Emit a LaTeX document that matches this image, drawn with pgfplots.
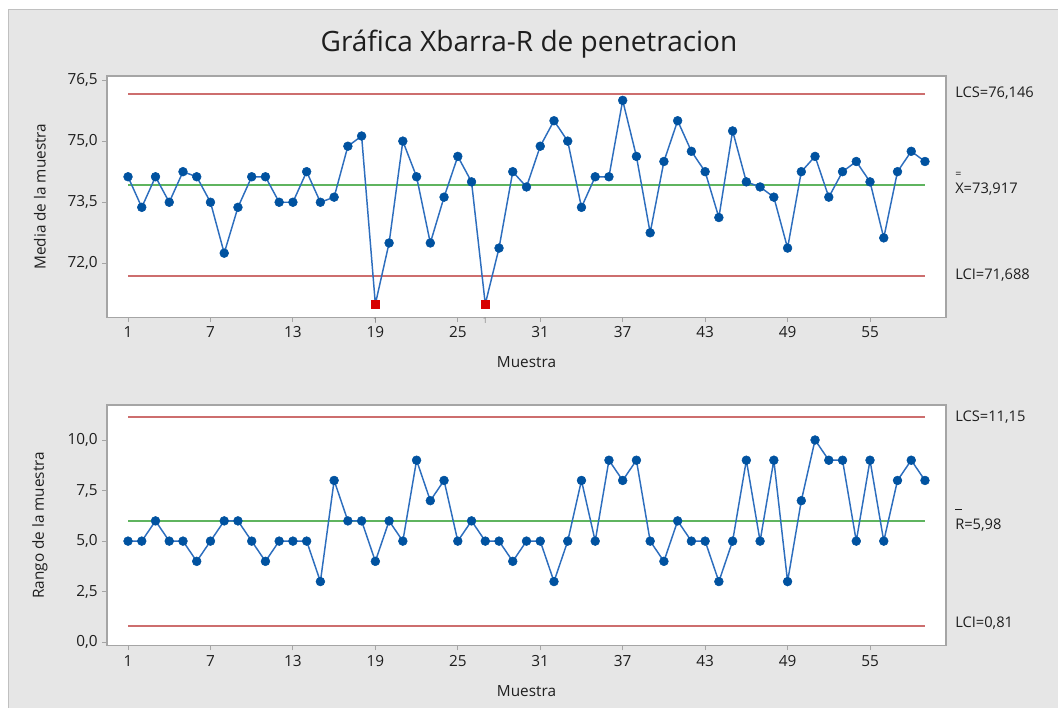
\documentclass[border=0pt]{standalone}
\usepackage{fontspec}
\setmainfont{Open Sans}
\usepackage{pgfplots}
\usepackage{pgfplotstable}
\pgfplotsset{compat=1.18}

\definecolor{bg}{RGB}{230,230,230}
\definecolor{framec}{RGB}{165,165,165}
\definecolor{dblue}{RGB}{0,82,160}
\definecolor{lblue}{RGB}{45,110,190}
\definecolor{lred}{RGB}{205,110,110}
\definecolor{lgreen}{RGB}{95,180,95}
\definecolor{sqred}{RGB}{215,0,0}
\definecolor{txt}{RGB}{30,30,30}

\pgfplotstableread{
n  xbar
1  74.125
2  73.375
3  74.125
4  73.500
5  74.250
6  74.125
7  73.500
8  72.250
9  73.375
10 74.125
11 74.125
12 73.500
13 73.500
14 74.250
15 73.500
16 73.625
17 74.875
18 75.125
19 71.000
20 72.500
21 75.000
22 74.125
23 72.500
24 73.625
25 74.625
26 74.000
27 71.000
28 72.375
29 74.250
30 73.875
31 74.875
32 75.500
33 75.000
34 73.375
35 74.125
36 74.125
37 76.000
38 74.625
39 72.750
40 74.500
41 75.500
42 74.750
43 74.250
44 73.125
45 75.250
46 74.000
47 73.875
48 73.625
49 72.375
50 74.250
51 74.625
52 73.625
53 74.250
54 74.500
55 74.000
56 72.625
57 74.250
58 74.750
59 74.500
}\xbartable

\pgfplotstableread{
n  xbar
1  74.125
2  73.375
3  74.125
4  73.500
5  74.250
6  74.125
7  73.500
8  72.250
9  73.375
10 74.125
11 74.125
12 73.500
13 73.500
14 74.250
15 73.500
16 73.625
17 74.875
18 75.125
20 72.500
21 75.000
22 74.125
23 72.500
24 73.625
25 74.625
26 74.000
28 72.375
29 74.250
30 73.875
31 74.875
32 75.500
33 75.000
34 73.375
35 74.125
36 74.125
37 76.000
38 74.625
39 72.750
40 74.500
41 75.500
42 74.750
43 74.250
44 73.125
45 75.250
46 74.000
47 73.875
48 73.625
49 72.375
50 74.250
51 74.625
52 73.625
53 74.250
54 74.500
55 74.000
56 72.625
57 74.250
58 74.750
59 74.500
}\xbarok

\pgfplotstableread{
n  xbar
19 71.000
27 71.000
}\xbarfail

\pgfplotstableread{
n  r
1  5
2  5
3  6
4  5
5  5
6  4
7  5
8  6
9  6
10 5
11 4
12 5
13 5
14 5
15 3
16 8
17 6
18 6
19 4
20 6
21 5
22 9
23 7
24 8
25 5
26 6
27 5
28 5
29 4
30 5
31 5
32 3
33 5
34 8
35 5
36 9
37 8
38 9
39 5
40 4
41 6
42 5
43 5
44 3
45 5
46 9
47 5
48 9
49 3
50 7
51 10
52 9
53 9
54 5
55 9
56 5
57 8
58 9
59 8
}\rtable

\pgfplotsset{
  cc/.style={
    scale only axis,
    width=629.25pt,
    xmin=-0.53, xmax=60.53,
    xtick={1,7,...,55},
    xtick pos=bottom, ytick pos=left,
    tick align=outside,
    major tick length=3.5pt,
    tick style={framec, line width=0.7pt},
    axis line style={framec, line width=1pt},
    axis background/.style={fill=white},
    ticklabel style={font=\fontsize{11.5}{13}\selectfont, text=txt},
    /pgf/number format/assume math mode=true,
    yticklabel style={/pgf/number format/.cd, use comma, fixed, fixed zerofill, precision=1},
    every axis x label/.style={at={(axis description cs:0.5,0)}, anchor=center, yshift=-33.75pt, font=\fontsize{11.5}{13}\selectfont, text=txt},
    every axis y label/.style={at={(axis description cs:0,0.5)}, anchor=center, xshift=-50.25pt, rotate=90, font=\fontsize{11.5}{13}\selectfont, text=txt},
    clip=false,
  },
  limline/.style={lred, line width=1.4pt},
  cenline/.style={lgreen, line width=1.4pt},
  dataline/.style={lblue, line width=1.1pt, mark=none},
  datadot/.style={only marks, mark=*, mark size=3.3pt, dblue, mark options={draw=dblue, fill=dblue}},
}

\begin{document}
\begin{tikzpicture}[x=0.75pt,y=-0.75pt]
\path[use as bounding box, fill=white] (0,0) rectangle (1058,708);
\fill[bg] (8,9) rectangle (1058,708);
\draw[framec!70, line width=0.5pt] (8,708) -- (8,9) -- (1058,9);

\node[font=\fontsize{21}{25}\selectfont, text=txt] at (529,44) {Gráfica Xbarra-R de penetracion};

% Top chart
\begin{axis}[cc, at={(80.25pt,-57pt)}, anchor=north west,
  height=181pt,
  ymin=70.675, ymax=76.598,
  ytick={72,73.5,75,76.5},
  xlabel={Muestra}, ylabel={Media de la muestra}]
\addplot[limline] coordinates {(1,76.146) (59,76.146)};
\addplot[limline] coordinates {(1,71.688) (59,71.688)};
\addplot[cenline] coordinates {(1,73.917) (59,73.917)};
\addplot[dataline] table[x=n,y=xbar] {\xbartable};
\addplot[datadot] table[x=n,y=xbar] {\xbarok};
\addplot[only marks, mark=square*, mark size=3.2pt, sqred, mark options={draw=sqred, fill=sqred}] table[x=n,y=xbar] {\xbarfail};
\node[anchor=north, inner sep=0.3pt, font=\fontsize{6}{6}\selectfont, text=framec!80!black] at (axis cs:19,70.675) {1};
\node[anchor=north, inner sep=0.3pt, font=\fontsize{6}{6}\selectfont, text=framec!80!black] at (axis cs:27,70.675) {1};
\end{axis}

% Bottom chart
\begin{axis}[cc, at={(80.25pt,-303.75pt)}, anchor=north west,
  height=180.5pt,
  ymin=-0.17, ymax=11.73,
  ytick={0,2.5,5,7.5,10},
  xlabel={Muestra}, ylabel={Rango de la muestra}]
\addplot[limline] coordinates {(1,11.15) (59,11.15)};
\addplot[limline] coordinates {(1,0.81) (59,0.81)};
\addplot[cenline] coordinates {(1,5.98) (59,5.98)};
\addplot[dataline] table[x=n,y=r] {\rtable};
\addplot[datadot] table[x=n,y=r] {\rtable};
\end{axis}

% right-hand labels
\begin{scope}[every node/.style={anchor=west, inner sep=0pt, font=\fontsize{11}{13}\selectfont, text=txt}]
\node at (955,93) {LCS=76,146};
\node at (955,184) {\makebox[0pt][l]{\raisebox{2.1ex}{\fontsize{8}{8}\selectfont =}}X=73,917};
\node at (955,275) {LCI=71,688};
\node at (955,417) {LCS=11,15};
\node at (955,520) {\makebox[0pt][l]{\rule[2.45ex]{0.45em}{0.5pt}}R=5,98};
\node at (955,623) {LCI=0,81};
\end{scope}
\end{tikzpicture}
\end{document}
